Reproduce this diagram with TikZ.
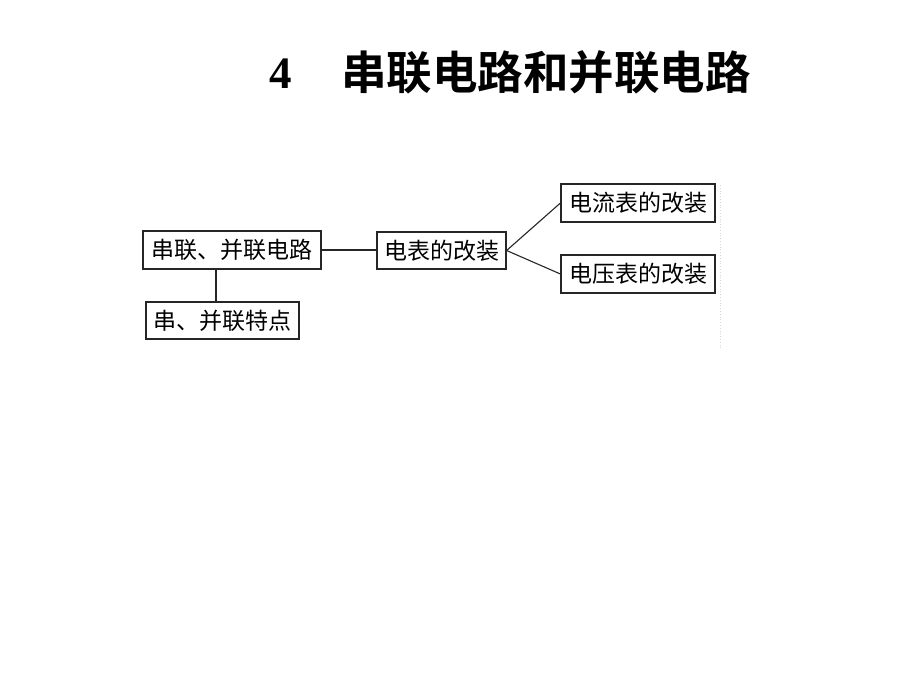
\documentclass[tikz,border=0pt]{standalone}
\usepackage{fontspec}
\setmainfont{Liberation Serif}
\newfontfamily\cjk{Noto Sans CJK SC}
\newfontfamily\cjkbold{Noto Sans CJK SC Bold}
\begin{document}
\begin{tikzpicture}[x=1pt,y=-1pt,
  box/.style={draw=black!85,line width=1.2pt,inner sep=0pt,font=\cjk\fontsize{23}{25}\selectfont},
  link/.style={draw=black!85,line width=1.1pt}]
\useasboundingbox (0,0) rectangle (920,690);
\fill[white] (0,0) rectangle (920,690);
% title
\node (t4) at (281,74) {\fontsize{45}{48}\selectfont\bfseries 4};
\node[anchor=west,inner sep=0pt] (title) at (341,72) {\cjkbold\fontsize{45.5}{48}\selectfont 串联电路和并联电路};
% boxes
\node[box,minimum width=178pt,minimum height=38pt] (A) at (232,250) {串联、并联电路};
\node[box,minimum width=153pt,minimum height=37pt] (B) at (222.5,320.5) {串、并联特点};
\node[box,minimum width=129pt,minimum height=37pt] (C) at (441.5,250.5) {电表的改装};
\node[box,minimum width=154pt,minimum height=38pt] (D) at (638,203) {电流表的改装};
\node[box,minimum width=154pt,minimum height=38pt] (E) at (638,274) {电压表的改装};
% connectors
\coordinate (vx) at (216,0);
\draw[link] (A.east) -- (A.east -| C.west);
\draw[link] (A.south -| vx) -- (B.north -| vx);
\draw[link] (C.east) -- (D.west);
\draw[link] (C.east) -- (E.west);
% faint dotted edge
\coordinate (f1) at (720,185);
\coordinate (f2) at (720,350);
\draw[black!15,dotted,line width=0.8pt] (f1) -- (f2);
\end{tikzpicture}
\end{document}
